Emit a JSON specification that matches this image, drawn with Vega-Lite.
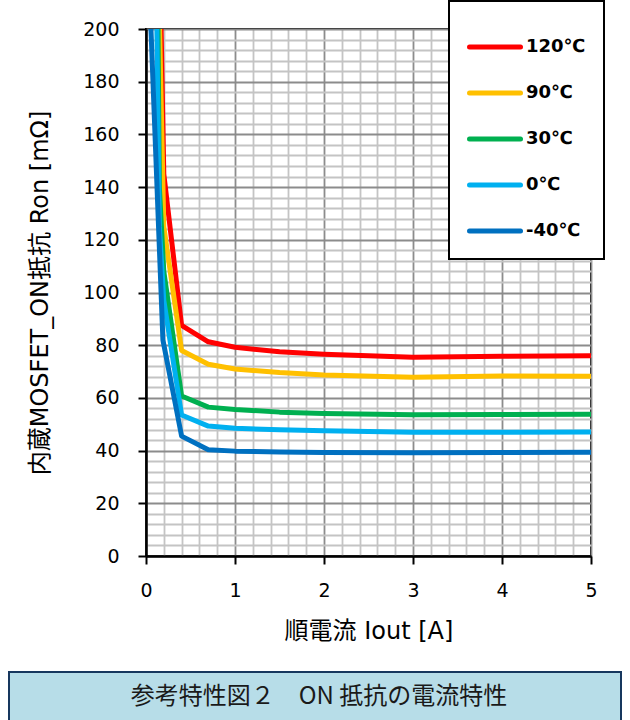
{
  "$schema": "https://vega.github.io/schema/vega-lite/v6.json",
  "padding": {"left": 8, "top": 0, "right": 0, "bottom": 0},
  "background": "white",
  "spacing": 27,
  "config": {"font": "DejaVu Sans, Noto Sans CJK JP", "view": {"stroke": null}},
  "vconcat": [
    {
      "spacing": 17,
      "hconcat": [
        {
          "width": 1,
          "height": 1,
          "data": {"values": []},
          "mark": {"type": "point", "opacity": 0}
        },
        {
          "width": 445,
          "height": 527,
          "view": {"stroke": "black", "strokeWidth": 2},
          "data": {"values": [
            {"temp": "120℃", "iout": 0.1, "ron": 328},
            {"temp": "120℃", "iout": 0.2, "ron": 145},
            {"temp": "120℃", "iout": 0.4, "ron": 87.5},
            {"temp": "120℃", "iout": 0.7, "ron": 81.3},
            {"temp": "120℃", "iout": 1, "ron": 79.2},
            {"temp": "120℃", "iout": 1.5, "ron": 77.5},
            {"temp": "120℃", "iout": 2, "ron": 76.6},
            {"temp": "120℃", "iout": 3, "ron": 75.4},
            {"temp": "120℃", "iout": 4, "ron": 75.8},
            {"temp": "120℃", "iout": 5, "ron": 76.0},
            {"temp": "90℃", "iout": 0.1, "ron": 285},
            {"temp": "90℃", "iout": 0.2, "ron": 125},
            {"temp": "90℃", "iout": 0.4, "ron": 78},
            {"temp": "90℃", "iout": 0.7, "ron": 72.8},
            {"temp": "90℃", "iout": 1, "ron": 71},
            {"temp": "90℃", "iout": 1.5, "ron": 69.6},
            {"temp": "90℃", "iout": 2, "ron": 68.7},
            {"temp": "90℃", "iout": 3, "ron": 67.8},
            {"temp": "90℃", "iout": 4, "ron": 68.3},
            {"temp": "90℃", "iout": 5, "ron": 68.2},
            {"temp": "30℃", "iout": 0.1, "ron": 340},
            {"temp": "30℃", "iout": 0.15, "ron": 140},
            {"temp": "30℃", "iout": 0.2, "ron": 108},
            {"temp": "30℃", "iout": 0.4, "ron": 60.7},
            {"temp": "30℃", "iout": 0.7, "ron": 56.5},
            {"temp": "30℃", "iout": 1, "ron": 55.6},
            {"temp": "30℃", "iout": 1.5, "ron": 54.6},
            {"temp": "30℃", "iout": 2, "ron": 54.1},
            {"temp": "30℃", "iout": 3, "ron": 53.6},
            {"temp": "30℃", "iout": 4, "ron": 53.7},
            {"temp": "30℃", "iout": 5, "ron": 53.8},
            {"temp": "0℃", "iout": 0.1, "ron": 260},
            {"temp": "0℃", "iout": 0.15, "ron": 125},
            {"temp": "0℃", "iout": 0.2, "ron": 97},
            {"temp": "0℃", "iout": 0.4, "ron": 53.5},
            {"temp": "0℃", "iout": 0.7, "ron": 49.3},
            {"temp": "0℃", "iout": 1, "ron": 48.5},
            {"temp": "0℃", "iout": 1.5, "ron": 47.9},
            {"temp": "0℃", "iout": 2, "ron": 47.5},
            {"temp": "0℃", "iout": 3, "ron": 47.0},
            {"temp": "0℃", "iout": 4, "ron": 47.0},
            {"temp": "0℃", "iout": 5, "ron": 47.1},
            {"temp": "-40℃", "iout": 0.05, "ron": 205},
            {"temp": "-40℃", "iout": 0.19, "ron": 82},
            {"temp": "-40℃", "iout": 0.4, "ron": 45.5},
            {"temp": "-40℃", "iout": 0.7, "ron": 40.3},
            {"temp": "-40℃", "iout": 1, "ron": 39.8},
            {"temp": "-40℃", "iout": 1.5, "ron": 39.5},
            {"temp": "-40℃", "iout": 2, "ron": 39.3},
            {"temp": "-40℃", "iout": 3, "ron": 39.2},
            {"temp": "-40℃", "iout": 4, "ron": 39.3},
            {"temp": "-40℃", "iout": 5, "ron": 39.4}
          ]},
          "mark": {"type": "line", "strokeWidth": 5, "clip": true, "strokeJoin": "round", "strokeCap": "round"},
          "encoding": {
            "x": {
              "field": "iout", "type": "quantitative",
              "scale": {"domain": [0, 5], "nice": false, "zero": false},
              "axis": {
                "values": [0,0.2,0.4,0.6,0.8,1,1.2,1.4,1.6,1.8,2,2.2,2.4,2.6,2.8,3,3.2,3.4,3.6,3.8,4,4.2,4.4,4.6,4.8,5],
                "title": "順電流 Iout [A]",
                "titleFontSize": 24, "titleFontWeight": "normal", "titleColor": "black", "titlePadding": 19,
                "labelExpr": "datum.value % 1 === 0 ? format(datum.value, 'd') : ''",
                "labelFontSize": 19, "labelColor": "black", "labelPadding": 17, "labelFlush": false, "labelOverlap": false,
                "tickSize": 8, "tickColor": "black", "tickWidth": 2,
                "tickOpacity": {"condition": {"test": "datum.value % 1 === 0", "value": 1}, "value": 0},
                "domainColor": "black", "domainWidth": 2.5,
                "grid": true,
                "gridColor": {"condition": {"test": "datum.value % 1 === 0", "value": "#8c8c8c"}, "value": "#c4c4c4"},
                "gridWidth": 1.8
              }
            },
            "y": {
              "field": "ron", "type": "quantitative",
              "scale": {"domain": [0, 200], "nice": false},
              "axis": {
                "values": [0,4,8,12,16,20,24,28,32,36,40,44,48,52,56,60,64,68,72,76,80,84,88,92,96,100,104,108,112,116,120,124,128,132,136,140,144,148,152,156,160,164,168,172,176,180,184,188,192,196,200],
                "title": "内蔵MOSFET_ON抵抗 Ron [mΩ]",
                "titleFontSize": 24, "titleFontWeight": "normal", "titleColor": "black", "titlePadding": 30,
                "labelExpr": "datum.value % 20 === 0 ? datum.label : ''",
                "labelFontSize": 19, "labelColor": "black", "labelPadding": 19, "labelFlush": false, "labelOverlap": false,
                "tickSize": 8, "tickColor": "black", "tickWidth": 2,
                "tickOpacity": {"condition": {"test": "datum.value % 20 === 0", "value": 1}, "value": 0},
                "domainColor": "black", "domainWidth": 2.5,
                "grid": true,
                "gridColor": {"condition": {"test": "datum.value % 20 === 0", "value": "#8c8c8c"}, "value": "#c4c4c4"},
                "gridWidth": 1.8
              }
            },
            "color": {
              "field": "temp", "type": "nominal",
              "scale": {"domain": ["120℃", "90℃", "30℃", "0℃", "-40℃"], "range": ["#ff0000", "#ffc000", "#00b050", "#00b0f0", "#0070c0"]},
              "legend": {
                "title": null, "orient": "none", "legendX": 440, "legendY": -28,
                "symbolType": "stroke", "symbolSize": 2601, "symbolStrokeWidth": 5,
                "labelFontSize": 18, "labelFontWeight": "bold", "labelColor": "black", "labelOffset": 3,
                "labelFont": "DejaVu Sans, Noto Sans CJK JP",
                "rowPadding": 8, "padding": 18,
                "strokeColor": "black", "fillColor": "white",
                "encode": {
                  "symbols": {"update": {"strokeCap": {"value": "round"}}},
                  "legend": {"update": {"strokeWidth": {"value": 2}}}
                }
              }
            }
          }
        }
      ]
    },
    {
      "width": 612,
      "height": 50,
      "view": {"fill": "#b7dde8", "stroke": "#17375e", "strokeWidth": 2},
      "data": {"values": [{"caption": "参考特性図２　ON 抵抗の電流特性"}]},
      "mark": {"type": "text", "fontSize": 24, "font": "Noto Sans CJK JP", "color": "#1a1a1a", "dx": 4},
      "encoding": {"text": {"field": "caption", "type": "nominal"}}
    }
  ]
}
